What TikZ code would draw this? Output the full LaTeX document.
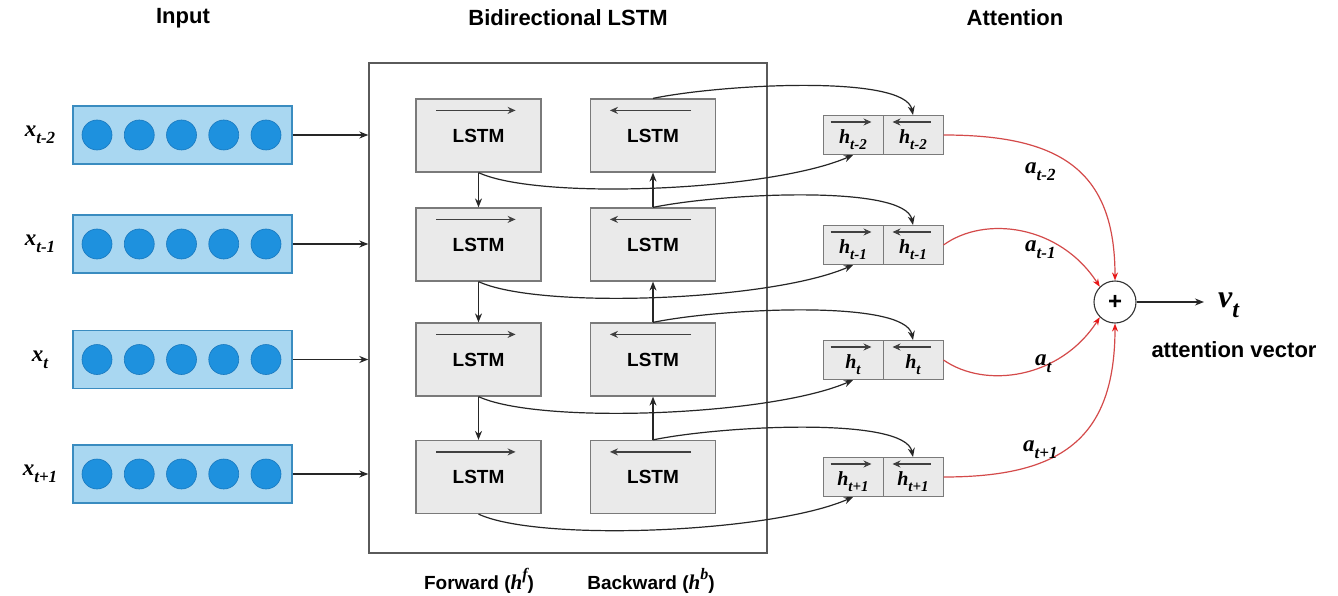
\documentclass[tikz,border=0pt]{standalone}
\usepackage{fontspec}
\setmainfont{Liberation Sans}
\newfontfamily\lblfont{Liberation Serif}
\usetikzlibrary{arrows.meta}
\definecolor{inFill}{HTML}{A9D7F1}
\definecolor{inEdge}{HTML}{3A8CC0}
\definecolor{dotFill}{HTML}{1E91DE}
\definecolor{dotEdge}{HTML}{1878BE}
\definecolor{boxFill}{HTML}{EAEAEA}
\definecolor{boxEdge}{HTML}{7A7A7A}
\definecolor{bigEdge}{HTML}{5A5A5A}
\definecolor{redLine}{HTML}{D44A4A}
\definecolor{redHead}{HTML}{E81818}
\newcommand{\xsub}[3]{#1\raisebox{-0.3em}{\fontsize{#3}{#3}\selectfont #2}}
\begin{document}
\begin{tikzpicture}[x=1pt,y=-1pt,
  title/.style={font=\fontsize{22}{26}\selectfont\bfseries, inner sep=0pt},
  inbox/.style={draw=inEdge, fill=inFill, line width=1.2pt, minimum width=219pt, minimum height=58pt, inner sep=0pt},
  dot/.style={circle, fill=dotFill, draw=dotEdge, line width=0.6pt, minimum size=30pt, inner sep=0pt},
  lstm/.style={draw=boxEdge, fill=boxFill, line width=1.2pt, minimum width=125pt, minimum height=73pt, inner sep=0pt, font=\fontsize{19}{22}\selectfont\bfseries},
  hcell/.style={draw=boxEdge, fill=boxFill, line width=1pt, minimum width=60pt, minimum height=39pt, inner sep=0pt},
  lab/.style={font=\lblfont\fontsize{23}{26}\selectfont\bfseries\itshape, inner sep=0pt},
  hlab/.style={font=\lblfont\fontsize{20}{22}\selectfont\bfseries\itshape, inner sep=0pt},
  arr/.style={draw=black!85, line width=1.2pt, -{Stealth[length=9pt,width=7pt]}},
  inarr/.style={draw=black!75, line width=1.3pt, -{Stealth[length=8pt,width=7pt]}},
  redarr/.style={draw=redLine, line width=1.2pt, -{Stealth[length=8pt,width=6pt,color=redHead]}},
  bottomlab/.style={font=\fontsize{19}{22}\selectfont\bfseries, inner sep=0pt}
]
\useasboundingbox (0,0) rectangle (1338,596);
\fill[white] (0,0) rectangle (1338,596);

% titles
\node[title] (tin) at (183,18) {Input};
\node[title] (tbi) at (568,18) {Bidirectional LSTM};
\node[title] (tat) at (1015,18) {Attention};

% big box
\node[draw=bigEdge, line width=1.4pt, minimum width=398pt, minimum height=490pt, inner sep=0pt] (big) at (568,308) {};

\foreach \i/\yin/\yl/\yh/\s in {1/135/135.5/135/t-2, 2/244/244.5/245/t-1, 3/359.5/359.5/360/t, 4/474/477/477/t+1}{
  \node[inbox] (in\i) at (182.5,\yin) {};
  \foreach \k in {0,...,4}{
    \node[dot] (d\i\k) at ({97+42.25*\k},\yin) {};
  }
  \node[lab] (x\i) at (40,\yin) {\xsub{x}{\s}{17}};
  \draw[arr] (in\i.east) -- (in\i.east -| big.west);
  \node[lstm] (f\i) at (478.5,\yl) {LSTM};
  \node[lstm] (b\i) at (653,\yl) {LSTM};
  \draw[inarr] ([xshift=21pt,yshift=-12pt]f\i.north west) -- ([xshift=-26pt,yshift=-12pt]f\i.north east);
  \draw[inarr] ([xshift=-25pt,yshift=-12pt]b\i.north east) -- ([xshift=20pt,yshift=-12pt]b\i.north west);
  \node[hcell] (hf\i) at (853,\yh) {};
  \node[hcell] (hb\i) at (913,\yh) {};
  \draw[inarr] ([xshift=8pt,yshift=-7pt]hf\i.north west) -- ([xshift=-12pt,yshift=-7pt]hf\i.north east);
  \draw[inarr] ([xshift=-13pt,yshift=-7pt]hb\i.north east) -- ([xshift=10pt,yshift=-7pt]hb\i.north west);
  \node[hlab] (hfl\i) at ([yshift=-5pt]hf\i.center) {\xsub{h}{\s}{15}};
  \node[hlab] (hbl\i) at ([yshift=-5pt]hb\i.center) {\xsub{h}{\s}{15}};
  % forward output curve
  \draw[arr] (f\i.south) .. controls +(60,28) and +(-82,36) .. (hf\i.south);
  % backward output curve
  \draw[arr] (b\i.north) .. controls +(67,-14) and +(-8,-41) .. (hb\i.north);
}

% recurrent arrows
\draw[arr] (f1.south) -- (f2.north);
\draw[arr] (f2.south) -- (f3.north);
\draw[arr] (f3.south) -- (f4.north);
\draw[arr] (b2.north) -- (b1.south);
\draw[arr] (b3.north) -- (b2.south);
\draw[arr] (b4.north) -- (b3.south);

% attention
\node[circle, draw=black!80, line width=1.1pt, minimum size=42pt, inner sep=0pt, font=\fontsize{24}{24}\selectfont\bfseries] (plus) at (1115,302) {+};
\draw[redarr] (hb1.east) .. controls (1060,135) and (1115,170) .. (plus.north);
\draw[redarr] (hb2.east) .. controls (985,215) and (1060,225) .. (plus.135);
\draw[redarr] (hb3.east) .. controls (985,389) and (1060,379) .. (plus.225);
\draw[redarr] (hb4.east) .. controls (1060,477) and (1115,440) .. (plus.south);

\node[lab, anchor=west] (a1) at (1025,172) {\xsub{a}{t-2}{17}};
\node[lab, anchor=west] (a2) at (1025,250) {\xsub{a}{t-1}{17}};
\node[lab, anchor=west] (a3) at (1035,364) {\xsub{a}{t}{17}};
\node[lab, anchor=west] (a4) at (1023,450) {\xsub{a}{t+1}{17}};

\coordinate (vtin) at (1204,302);
\draw[arr, line width=1.4pt] (plus.east) -- (vtin);
\node[font=\lblfont\fontsize{32}{34}\selectfont\bfseries\itshape, inner sep=0pt, anchor=west] (vt) at (1218,305) {\xsub{v}{t}{24}};
\node[title] (attv) at (1234,350) {attention vector};

% bottom labels
\node[bottomlab] (fwd) at (479,581) {Forward ({\lblfont\itshape\fontsize{21}{22}\selectfont h}\raisebox{0.55em}{\lblfont\itshape\fontsize{16}{16}\selectfont f})};
\node[bottomlab] (bwd) at (651,581) {Backward ({\lblfont\itshape\fontsize{21}{22}\selectfont h}\raisebox{0.55em}{\lblfont\itshape\fontsize{16}{16}\selectfont b})};
\end{tikzpicture}
\end{document}
